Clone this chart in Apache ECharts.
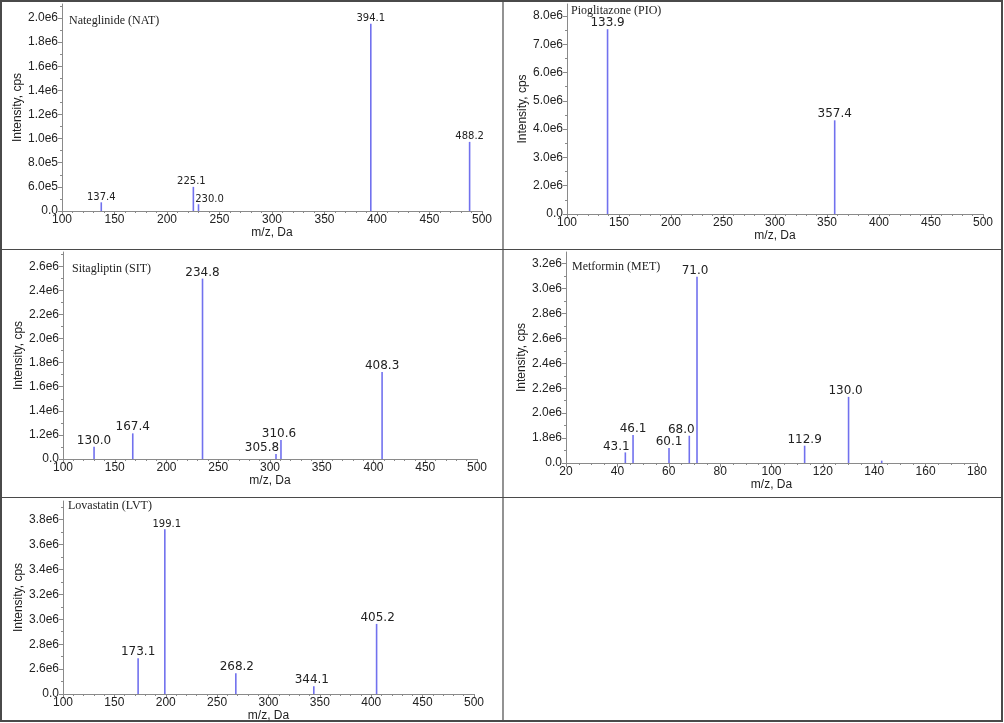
<!DOCTYPE html>
<html><head><meta charset="utf-8">
<script src="https://cdn.jsdelivr.net/npm/echarts@6/dist/echarts.min.js"></script>
<style>html,body{margin:0;padding:0;background:#fff}#c{width:1004px;height:723px}</style>
</head><body><div id="c"></div>
<script>
// ---------- DATA ----------
// Nateglinide (NAT)
const natMz = [137.4, 225.1, 230.0, 394.1, 488.2];
const natIntensity = [4.72e5, 6.0e5, 4.56e5, 1.952e6, 9.73e5];
const natPeakLabels = ["137.4", "225.1", "230.0", "394.1", "488.2"];
const natXTicks = [100, 150, 200, 250, 300, 350, 400, 450, 500];
const natYTickValues = [4e5, 6e5, 8e5, 1.0e6, 1.2e6, 1.4e6, 1.6e6, 1.8e6, 2.0e6];
const natYTickLabels = ["0.0", "6.0e5", "8.0e5", "1.0e6", "1.2e6", "1.4e6", "1.6e6", "1.8e6", "2.0e6"];

// Pioglitazone (PIO)
const pioMz = [139.0, 357.4];
const pioIntensity = [7.53e6, 4.31e6];
const pioPeakLabels = ["133.9", "357.4"];
const pioXTicks = [100, 150, 200, 250, 300, 350, 400, 450, 500];
const pioYTickValues = [1e6, 2e6, 3e6, 4e6, 5e6, 6e6, 7e6, 8e6];
const pioYTickLabels = ["0.0", "2.0e6", "3.0e6", "4.0e6", "5.0e6", "6.0e6", "7.0e6", "8.0e6"];

// Sitagliptin (SIT)
const sitMz = [130.0, 167.4, 234.8, 305.8, 310.6, 408.3];
const sitIntensity = [1.102e6, 1.213e6, 2.498e6, 1.042e6, 1.158e6, 1.722e6];
const sitPeakLabels = ["130.0", "167.4", "234.8", "305.8", "310.6", "408.3"];
const sitXTicks = [100, 150, 200, 250, 300, 350, 400, 450, 500];
const sitYTickValues = [1.0e6, 1.2e6, 1.4e6, 1.6e6, 1.8e6, 2.0e6, 2.2e6, 2.4e6, 2.6e6];
const sitYTickLabels = ["0.0", "1.2e6", "1.4e6", "1.6e6", "1.8e6", "2.0e6", "2.2e6", "2.4e6", "2.6e6"];

// Metformin (MET)
const metMz = [43.1, 46.1, 60.1, 68.0, 71.0, 112.9, 130.0, 142.9];
const metIntensity = [1.685e6, 1.824e6, 1.72e6, 1.819e6, 3.095e6, 1.739e6, 2.131e6, 1.619e6];
const metPeakLabels = ["43.1", "46.1", "60.1", "68.0", "71.0", "112.9", "130.0", ""];
const metXTicks = [20, 40, 60, 80, 100, 120, 140, 160, 180];
const metYTickValues = [1.6e6, 1.8e6, 2.0e6, 2.2e6, 2.4e6, 2.6e6, 2.8e6, 3.0e6, 3.2e6];
const metYTickLabels = ["0.0", "1.8e6", "2.0e6", "2.2e6", "2.4e6", "2.6e6", "2.8e6", "3.0e6", "3.2e6"];

// Lovastatin (LVT)
const lvtMz = [173.1, 199.1, 268.2, 344.1, 405.2];
const lvtIntensity = [2.687e6, 3.724e6, 2.566e6, 2.462e6, 2.963e6];
const lvtPeakLabels = ["173.1", "199.1", "268.2", "344.1", "405.2"];
const lvtXTicks = [100, 150, 200, 250, 300, 350, 400, 450, 500];
const lvtYTickValues = [2.4e6, 2.6e6, 2.8e6, 3.0e6, 3.2e6, 3.4e6, 3.6e6, 3.8e6];
const lvtYTickLabels = ["0.0", "2.6e6", "2.8e6", "3.0e6", "3.2e6", "3.4e6", "3.6e6", "3.8e6"];

// ---------- LAYOUT / STYLE ----------
const panels = [
  { title: "Nateglinide (NAT)", mz: natMz, y: natIntensity, labels: natPeakLabels, xTicks: natXTicks, yTV: natYTickValues, yTL: natYTickLabels,
    L: { left: 62, top: 4, width: 420, height: 207, yMax: 2.116e6, xMinor: 5, titleX: 69, titleY: 15, labelSize: 10,
         labelDx: [0, -2, 11, 0, 0], labelSizes: null } },
  { title: "Pioglitazone (PIO)", mz: pioMz, y: pioIntensity, labels: pioPeakLabels, xTicks: pioXTicks, yTV: pioYTickValues, yTL: pioYTickLabels,
    L: { left: 567, top: 4, width: 416, height: 210, yMax: 8.42e6, xMinor: 5, titleX: 571, titleY: 5, labelSize: 12,
         labelDx: [0, 0], labelSizes: null } },
  { title: "Sitagliptin (SIT)", mz: sitMz, y: sitIntensity, labels: sitPeakLabels, xTicks: sitXTicks, yTV: sitYTickValues, yTL: sitYTickLabels,
    L: { left: 63, top: 252, width: 414, height: 207, yMax: 2.719e6, xMinor: 5, titleX: 72, titleY: 263, labelSize: 12,
         labelDx: [0, 0, 0, -14, -2, 0], labelSizes: null } },
  { title: "Metformin (MET)", mz: metMz, y: metIntensity, labels: metPeakLabels, xTicks: metXTicks, yTV: metYTickValues, yTL: metYTickLabels,
    L: { left: 566, top: 252, width: 411, height: 211, yMax: 3.294e6, xMinor: 4, titleX: 572, titleY: 261, labelSize: 12,
         labelDx: [-9, 0, 0, -8, -2, 0, -3, 0], labelSizes: null } },
  { title: "Lovastatin (LVT)", mz: lvtMz, y: lvtIntensity, labels: lvtPeakLabels, xTicks: lvtXTicks, yTV: lvtYTickValues, yTL: lvtYTickLabels,
    L: { left: 63, top: 501, width: 411, height: 193, yMax: 3.95e6, xMinor: 5, titleX: 68, titleY: 500, labelSize: 12,
         labelDx: [0, 2, 1, -2, 1], labelSizes: [12, 10, 12, 12, 12] } }
];

const AXIS = '#8a8a8a';
const TXT = '#222';
const BAR = '#7171ee';

const grids = [], xAxes = [], yAxes = [], series = [], titles = [];
panels.forEach((p, i) => {
  const L = p.L;
  grids.push({ left: L.left, top: L.top, width: L.width, height: L.height, containLabel: false });
  xAxes.push({
    type: 'value', gridIndex: i,
    min: p.xTicks[0], max: p.xTicks[p.xTicks.length - 1], interval: p.xTicks[1] - p.xTicks[0],
    name: 'm/z, Da', nameLocation: 'middle', nameGap: 12,
    nameTextStyle: { color: TXT, fontFamily: 'Liberation Sans', fontSize: 12 },
    axisLine: { onZero: false, lineStyle: { color: AXIS, width: 1 } },
    axisTick: { length: 4, lineStyle: { color: AXIS } },
    minorTick: { show: true, splitNumber: L.xMinor, length: 2, lineStyle: { color: AXIS } },
    axisLabel: { margin: 3, color: TXT, fontFamily: 'Liberation Sans', fontSize: 12 },
    splitLine: { show: false }, minorSplitLine: { show: false }
  });
  const yMin = p.yTV[0], yStep = p.yTV[1] - p.yTV[0];
  yAxes.push({
    type: 'value', gridIndex: i, min: yMin, max: L.yMax, interval: yStep,
    name: 'Intensity, cps', nameLocation: 'middle', nameGap: 38,
    nameTextStyle: { color: TXT, fontFamily: 'Liberation Sans', fontSize: 12 },
    axisLine: { onZero: false, lineStyle: { color: AXIS, width: 1 } },
    axisTick: { length: 4, lineStyle: { color: AXIS }, customValues: p.yTV },
    minorTick: { show: true, splitNumber: 2, length: 2, lineStyle: { color: AXIS } },
    axisLabel: {
      margin: 4, color: TXT, fontFamily: 'Liberation Sans', fontSize: 12,
      customValues: p.yTV,
      formatter: (v) => {
        const k = p.yTV.findIndex(t => Math.abs(t - v) < yStep * 1e-3);
        return k < 0 ? '' : p.yTL[k];
      }
    },
    splitLine: { show: false }, minorSplitLine: { show: false }
  });
  series.push({
    type: 'bar', xAxisIndex: i, yAxisIndex: i, barWidth: 1.6, silent: true, clip: true,
    itemStyle: { color: BAR },
    label: {
      show: true, position: 'top', distance: 0, color: TXT,
      fontFamily: 'DejaVu Sans', fontSize: L.labelSize,
      formatter: (d) => p.labels[d.dataIndex]
    },
    data: p.mz.map((m, k) => ({
      value: [m, p.y[k]],
      label: { offset: [L.labelDx[k] || 0, 0], fontSize: L.labelSizes ? L.labelSizes[k] : L.labelSize }
    }))
  });
  titles.push({
    text: p.title, left: L.titleX, top: L.titleY, padding: 0,
    textStyle: { fontFamily: 'Liberation Serif', fontSize: 12, fontWeight: 'normal', color: TXT }
  });
});

const BORDER = '#4a4a4a';
const graphic = [
  { type: 'rect', shape: { x: 1, y: 1, width: 1001, height: 720 }, style: { fill: null, stroke: BORDER, lineWidth: 2 }, silent: true },
  { type: 'line', shape: { x1: 503, y1: 1, x2: 503, y2: 721 }, style: { stroke: BORDER, lineWidth: 1.2 }, silent: true },
  { type: 'line', shape: { x1: 1, y1: 249.5, x2: 1002, y2: 249.5 }, style: { stroke: BORDER, lineWidth: 1.2 }, silent: true },
  { type: 'line', shape: { x1: 1, y1: 497.5, x2: 1002, y2: 497.5 }, style: { stroke: BORDER, lineWidth: 1.2 }, silent: true }
];

const chart = echarts.init(document.getElementById('c'), null, { renderer: 'canvas' });
chart.setOption({
  animation: false,
  backgroundColor: '#fff',
  title: titles,
  grid: grids,
  xAxis: xAxes,
  yAxis: yAxes,
  series: series,
  graphic: graphic
});
</script>
</body></html>
